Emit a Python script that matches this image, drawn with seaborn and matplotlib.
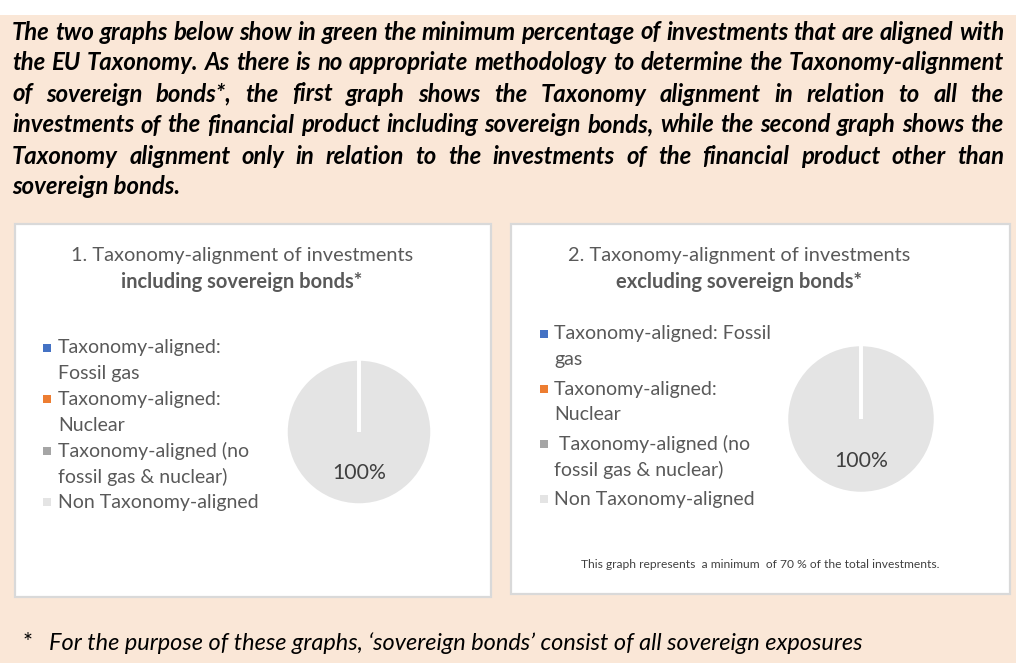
import matplotlib
matplotlib.use("Agg")
import matplotlib.pyplot as plt
from matplotlib.patches import Rectangle
import seaborn as sns

W, H = 1016, 663
FONT = "Lato"

# data
categories = ["Taxonomy-aligned: Fossil gas", "Taxonomy-aligned: Nuclear",
              "Taxonomy-aligned (no fossil gas & nuclear)", "Non Taxonomy-aligned"]
values_incl = [0, 0, 0, 100]
values_excl = [0, 0, 0, 100]
category_colours = ["#4472C4", "#ED7D31", "#A5A5A5", "#E4E4E4"]

legend_lines_incl = [["Taxonomy-aligned:", "Fossil gas"],
                     ["Taxonomy-aligned:", "Nuclear"],
                     ["Taxonomy-aligned (no", "fossil gas & nuclear)"],
                     ["Non Taxonomy-aligned"]]
legend_lines_excl = [["Taxonomy-aligned: Fossil", "gas"],
                     ["Taxonomy-aligned:", "Nuclear"],
                     [" Taxonomy-aligned (no", "fossil gas & nuclear)"],
                     ["Non Taxonomy-aligned"]]

chart_titles = [("1. Taxonomy-alignment of investments", "including sovereign bonds*"),
                ("2. Taxonomy-alignment of investments", "excluding sovereign bonds*")]

intro_lines = [
    "The two graphs below show in green the minimum percentage of investments that are aligned with",
    "the EU Taxonomy. As there is no appropriate methodology to determine the Taxonomy-alignment",
    "of sovereign bonds*, the first graph shows the Taxonomy alignment in relation to all the",
    "investments of the financial product including sovereign bonds, while the second graph shows the",
    "Taxonomy alignment only in relation to the investments of the financial product other than",
    "sovereign bonds.",
]
coverage_note = "This graph represents  a minimum  of 70 % of the total investments."
footnote = "For the purpose of these graphs, \u2018sovereign bonds\u2019 consist of all sovereign exposures"

PEACH = "#FAE7D7"
GREY_TEXT = "#595959"


def fx(x):
    return x / W


def fy(y):
    return 1 - y / H


def text_width(fig, s, **kw):
    t = fig.text(0, 0, s, family=FONT, **kw)
    w = t.get_window_extent(renderer=fig.canvas.get_renderer()).width
    t.remove()
    return w


def fit_size(fig, s, target, **kw):
    return 10 * target / text_width(fig, s, fontsize=10, **kw)


def put(fig, x, y, s, **kw):
    kw.setdefault("va", "center")
    return fig.text(fx(x), fy(y), s, family=FONT, **kw)


def draw_justified(fig, lines, x0, x1, ys, size, **kw):
    for i, (line, y) in enumerate(zip(lines, ys)):
        if i == len(lines) - 1:
            put(fig, x0, y, line, fontsize=size, **kw)
            continue
        words = line.split()
        widths = [text_width(fig, w, fontsize=size, **kw) for w in words]
        gap = (x1 - x0 - sum(widths)) / (len(words) - 1)
        x = x0
        for word, ww in zip(words, widths):
            put(fig, x, y, word, fontsize=size, **kw)
            x += ww + gap


def draw_box(fig, x0, y0, x1, y1):
    fig.add_artist(Rectangle((fx(x0), fy(y1)), (x1 - x0) / W, (y1 - y0) / H,
                             transform=fig.transFigure, facecolor="white",
                             edgecolor="#D9D9D9", linewidth=1.6, zorder=-1))


def draw_pie(fig, values, cx, cy, r, label_size):
    pad = 1.08
    ax = fig.add_axes([fx(cx - r * pad), fy(cy + r * pad), 2 * r * pad / W, 2 * r * pad / H])
    ax.set_zorder(2)
    wedges, _, autotexts = ax.pie(
        values, colors=palette, startangle=90, counterclock=False, radius=1,
        wedgeprops=dict(edgecolor="white", linewidth=2.5),
        autopct=lambda p: f"{p:.0f}%" if p > 0 else "", pctdistance=0.56,
        textprops=dict(color="#404040", fontsize=label_size, family=FONT))
    # empty slices leave only their white border, keep it on top
    for w, v in zip(wedges, values):
        if v == 0:
            w.set_zorder(3)
    ax.set_xlim(-pad, pad)
    ax.set_ylim(-pad, pad)
    ax.patch.set_alpha(0)
    ax.axis("off")


def draw_legend(fig, lines, x_mark, x_text, y0, step, gap, size):
    y = y0
    for colour, entry in zip(palette, lines):
        fig.add_artist(Rectangle((fx(x_mark - 4), fy(y + 4)), 8 / W, 8 / H,
                                 transform=fig.transFigure, facecolor=colour,
                                 edgecolor="none", zorder=1))
        for ln in entry:
            put(fig, x_text, y, ln, fontsize=size, color=GREY_TEXT)
            y += step
        y += gap


sns.set_theme(style="white")
plt.rcParams["font.family"] = [FONT, "DejaVu Sans"]
palette = sns.color_palette(category_colours)

fig = plt.figure(figsize=(W / 100, H / 100), dpi=100)
fig.patch.set_facecolor("white")
fig.add_artist(Rectangle((0, 0), 1, fy(15), transform=fig.transFigure,
                         facecolor=PEACH, edgecolor="none", zorder=-2))

# intro paragraph, justified
intro_size = min(fit_size(fig, intro_lines[i], 990, weight="bold", style="italic")
                 for i in (0, 1, 3))
draw_justified(fig, intro_lines, 12, 1004, [32, 63, 94, 125, 156, 187], intro_size,
               weight="bold", style="italic", color="black")

draw_box(fig, 15, 224, 491, 597)
draw_box(fig, 511, 224, 1010, 594)

title_size = fit_size(fig, chart_titles[0][0], 343)
bold_size = fit_size(fig, chart_titles[0][1], 242, weight="bold")
legend_size = fit_size(fig, "Non Taxonomy-aligned", 201)
pct_size = fit_size(fig, "100%", 54)

for (t1, t2), cx in zip(chart_titles, [242, 739]):
    put(fig, cx, 256, t1, fontsize=title_size, color=GREY_TEXT, ha="center")
    put(fig, cx, 282, t2, fontsize=bold_size, color=GREY_TEXT, ha="center", weight="bold")

draw_legend(fig, legend_lines_incl, 46.5, 58, 348, 25.7, 0, legend_size)
draw_legend(fig, legend_lines_excl, 543.5, 554, 334, 26, 3, legend_size)

draw_pie(fig, values_incl, 359, 432, 73, pct_size)
draw_pie(fig, values_excl, 861, 419, 74.5, pct_size)

put(fig, 760, 565, coverage_note, ha="center", color="#404040",
    fontsize=fit_size(fig, coverage_note, 357))

foot_size = fit_size(fig, footnote, 815, style="italic")
put(fig, 23, 643, "*", fontsize=foot_size, color="black")
put(fig, 49, 643, footnote, fontsize=foot_size, style="italic", color="black")

fig.savefig("out.png", dpi=100, facecolor=fig.get_facecolor())
